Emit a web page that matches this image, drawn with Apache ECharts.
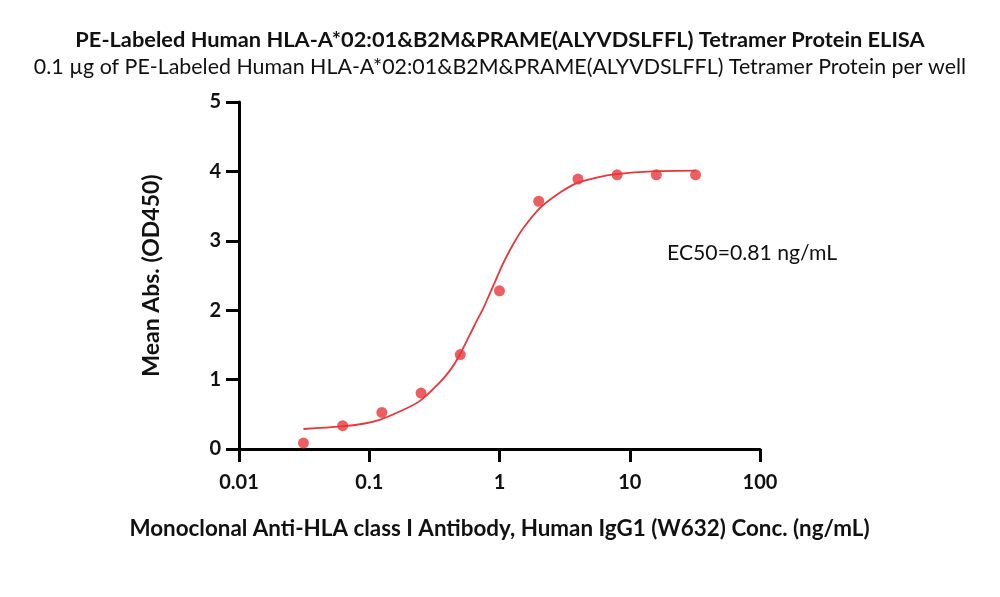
<!DOCTYPE html>
<html>
<head>
<meta charset="utf-8">
<script src="https://cdn.jsdelivr.net/npm/echarts@6/dist/echarts.min.js"></script>
<style>
  html, body { margin: 0; padding: 0; background: #fff; }
  #main { width: 1000px; height: 597px; }
</style>
</head>
<body>
<div id="main"></div>
<script>
// measured points (conc in ng/mL, mean OD450)
var concX = [0.03125, 0.0625, 0.125, 0.25, 0.5, 1, 2, 4, 8, 16, 32];
var meanOD = [0.086, 0.336, 0.527, 0.806, 1.36, 2.28, 3.57, 3.89, 3.95, 3.95, 3.95];

// fitted curve
var fitX = [0.03125, 0.061, 0.09, 0.12, 0.171, 0.244, 0.348, 0.42, 0.486, 0.59, 0.67, 0.748, 0.82, 0.9, 1.0, 1.13, 1.3, 1.52, 2.04, 2.74, 3.9, 5.56, 7.9, 15, 32];
var fitY = [0.288, 0.325, 0.364, 0.42, 0.54, 0.69, 0.96, 1.14, 1.33, 1.64, 1.85, 2.02, 2.19, 2.36, 2.56, 2.77, 2.98, 3.18, 3.47, 3.66, 3.83, 3.91, 3.96, 4.0, 4.01];

var xTickLabels = ['0.01', '0.1', '1', '10', '100'];
var yTickLabels = ['0', '1', '2', '3', '4', '5'];

var titleText = 'PE-Labeled Human HLA-A*02:01&B2M&PRAME(ALYVDSLFFL) Tetramer Protein ELISA';
var subText = '0.1 \u00b5g of PE-Labeled Human HLA-A*02:01&B2M&PRAME(ALYVDSLFFL) Tetramer Protein per well';
var xName = 'Monoclonal Anti-HLA class I Antibody, Human IgG1 (W632) Conc. (ng/mL)';
var yName = 'Mean Abs. (OD450)';
var ec50Text = 'EC50=0.81 ng/mL';

var red = '#E8363B';
var font = 'Lato, "Open Sans", sans-serif';

var pts = [];
for (var i = 0; i < concX.length; i++) pts.push([concX[i], meanOD[i]]);
var fit = [];
for (var j = 0; j < fitX.length; j++) fit.push([fitX[j], fitY[j]]);

var chart = echarts.init(document.getElementById('main'));

var option = {
  backgroundColor: '#fff',
  animation: false,
  title: [
    {
      text: titleText,
      left: 'center',
      top: 24,
      textStyle: { fontFamily: font, fontWeight: 'bold', fontSize: 21.8, color: '#111' }
    },
    {
      text: subText,
      left: 'center',
      top: 52,
      textStyle: { fontFamily: font, fontWeight: 'normal', fontSize: 21.4, color: '#111' }
    }
  ],
  grid: { left: 239, right: 240, top: 102, bottom: 148, containLabel: false },
  xAxis: {
    type: 'log',
    logBase: 10,
    min: 0.01,
    max: 100,
    name: xName,
    nameLocation: 'middle',
    nameGap: 69,
    nameTextStyle: { fontFamily: font, fontWeight: 'bold', fontSize: 22.4, color: '#111' },
    axisLine: { show: true, lineStyle: { color: '#000', width: 3 } },
    axisTick: { show: true, inside: false, length: 13, lineStyle: { color: '#000', width: 3 } },
    minorTick: { show: false },
    splitLine: { show: false },
    axisLabel: {
      margin: 24,
      fontFamily: font, fontWeight: 'bold', fontSize: 20, color: '#111',
      formatter: function (v) {
        var k = Math.round(Math.log(v) / Math.LN10) + 2;
        return xTickLabels[k] || '';
      }
    }
  },
  yAxis: {
    type: 'value',
    min: 0,
    max: 5,
    interval: 1,
    name: yName,
    nameLocation: 'middle',
    nameGap: 76,
    nameTextStyle: { fontFamily: font, fontWeight: 'bold', fontSize: 23, color: '#111' },
    axisLine: { show: true, lineStyle: { color: '#000', width: 3 } },
    axisTick: { show: true, inside: false, length: 13, lineStyle: { color: '#000', width: 3 } },
    splitLine: { show: false },
    axisLabel: {
      margin: 18,
      fontFamily: font, fontWeight: 'bold', fontSize: 20, color: '#111',
      formatter: function (v) { return yTickLabels[Math.round(v)]; }
    }
  },
  graphic: [
    {
      type: 'text',
      left: 667,
      top: 243,
      style: { text: ec50Text, fontFamily: font, fontSize: 21.2, fill: '#111' }
    }
  ],
  series: [
    {
      name: 'fit',
      type: 'line',
      data: fit,
      smooth: 0.3,
      showSymbol: false,
      lineStyle: { color: red, width: 1.8 },
      z: 2
    },
    {
      name: 'mean',
      type: 'scatter',
      data: pts,
      symbol: 'circle',
      symbolSize: 11,
      itemStyle: { color: red },
      z: 3
    }
  ]
};

chart.setOption(option);
</script>
</body>
</html>
